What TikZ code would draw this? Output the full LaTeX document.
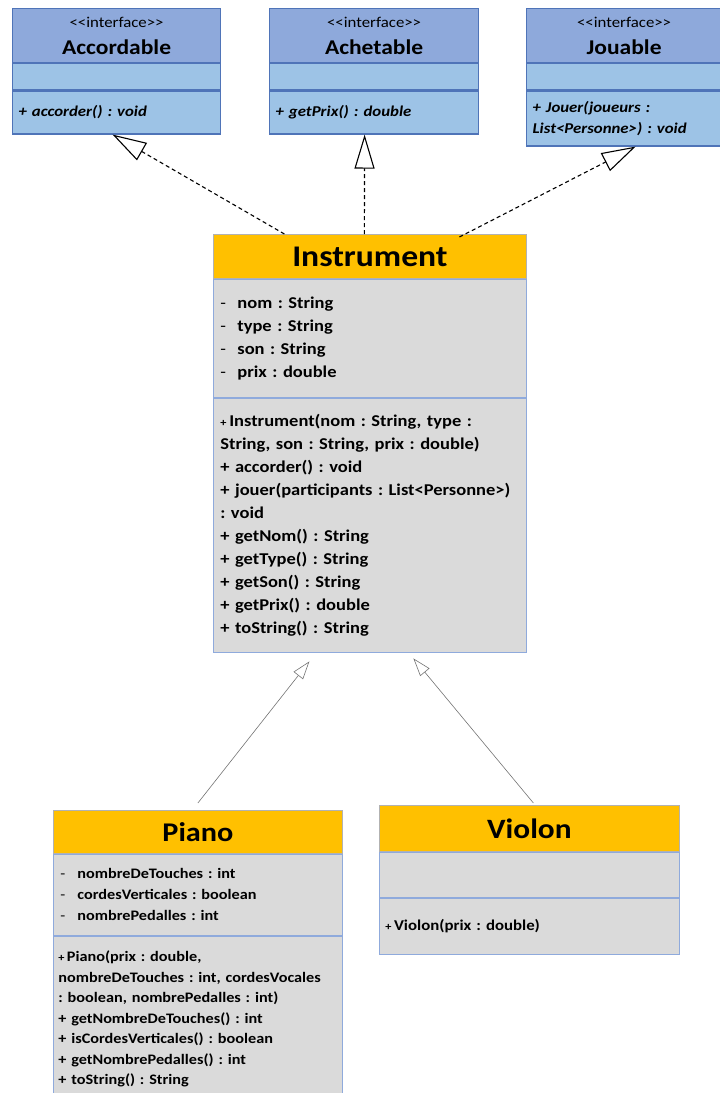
\documentclass[tikz,border=0pt]{standalone}
\usepackage{fontspec}
\setmainfont{Carlito}[FakeStretch=1.12]
\usetikzlibrary{arrows.meta}
\usetikzlibrary{positioning}

\definecolor{ifdark}{HTML}{8EA9DB}
\definecolor{iflight}{HTML}{9DC3E6}
\definecolor{ifline}{HTML}{4F74B8}
\definecolor{clorange}{HTML}{FFC000}
\definecolor{clgrey}{HTML}{DADADA}
\definecolor{clline}{HTML}{8FAADC}

\frenchspacing
\newcommand{\stereo}{<\kern0pt<interface>\kern0pt>}
\newcommand{\attrline}[1]{\makebox[17pt][l]{\mdseries-}#1}
\newcommand{\cplus}{{\fontsize{11}{11}\selectfont+}\,}

\tikzset{
    ifhead/.style = {rectangle, draw=ifline, fill=ifdark, line width=1.2pt, anchor=north west, inner sep=0pt, align=center, font=\fontsize{21}{27}\selectfont\bfseries},
    ifbody/.style = {rectangle, draw=ifline, fill=iflight, line width=1.2pt, anchor=north west, inner xsep=6pt, inner ysep=0pt, align=left, font=\fontsize{15}{21}\selectfont\bfseries\itshape},
    clhead/.style = {rectangle, draw=gray!60, fill=clorange, line width=0.8pt, anchor=north west, inner sep=0pt, align=center},
    clbody/.style = {rectangle, draw=clline, fill=clgrey, line width=0.8pt, anchor=north west, inner xsep=7pt, inner ysep=0pt, align=left},
    edgei/.style = {-{Triangle[open,length=34pt,width=20pt]}, line width=1.1pt, dash pattern=on 4pt off 3pt, black}, % realisation
    edgeh/.style = {-{Triangle[open,length=18pt,width=12pt]}, line width=0.6pt, black!55} % heritage
}

\begin{document}
\begin{tikzpicture}[x=1pt, y=1pt]
  \useasboundingbox (0,0) rectangle (720,-1093);

  % interfaces
  \node[ifhead, minimum width=208pt, minimum height=54pt] (acchead) at (12,-8) {{\mdseries\fontsize{15}{15}\selectfont\stereo}\\Accordable};
  \node[ifbody, minimum width=208pt, minimum height=26pt, text width=196pt] (accattr) at (acchead.south west) {};
  \node[ifbody, minimum width=208pt, minimum height=43pt, text width=196pt] (accmeth) at (accattr.south west) {+ accorder() : void};

  \node[ifhead, minimum width=209pt, minimum height=54pt] (achhead) at (269,-8) {{\mdseries\fontsize{15}{15}\selectfont\stereo}\\Achetable};
  \node[ifbody, minimum width=209pt, minimum height=26pt, text width=197pt] (achattr) at (achhead.south west) {};
  \node[ifbody, minimum width=209pt, minimum height=43pt, text width=197pt] (achmeth) at (achattr.south west) {+ getPrix() : double};

  \node[ifhead, minimum width=195pt, minimum height=54pt] (jouhead) at (526,-8) {{\mdseries\fontsize{15}{15}\selectfont\stereo}\\Jouable};
  \node[ifbody, minimum width=195pt, minimum height=26pt, text width=183pt] (jouattr) at (jouhead.south west) {};
  \node[ifbody, minimum width=195pt, minimum height=55pt, text width=183pt] (joumeth) at (jouattr.south west) {+ Jouer(joueurs :\\List<Personne>) : void};

  % Instrument
  \node[clhead, minimum width=313pt, minimum height=44pt, font=\fontsize{30}{30}\selectfont\bfseries] (instrhead) at (213,-234) {Instrument};
  \node[clbody, minimum width=313pt, minimum height=118pt, text width=299pt, font=\fontsize{16.5}{23}\selectfont\bfseries] (instrattr) at (instrhead.south west) {%
    \attrline{nom : String}\\
    \attrline{type : String}\\
    \attrline{son : String}\\
    \attrline{prix : double}};
  \node[clbody, minimum width=313pt, minimum height=254pt, text width=299pt, font=\fontsize{16.5}{23}\selectfont\bfseries] (instrmeth) at (instrattr.south west) {%
    \cplus Instrument(nom : String, type :\\
    String, son : String, prix : double)\\
    + accorder() : void\\
    + jouer(participants : List<Personne>)\\
    : void\\
    + getNom() : String\\
    + getType() : String\\
    + getSon() : String\\
    + getPrix() : double\\
    + toString() : String};

  % Piano
  \node[clhead, minimum width=289pt, minimum height=43pt, font=\fontsize{27}{27}\selectfont\bfseries] (pianohead) at (53,-810) {Piano};
  \node[clbody, minimum width=289pt, minimum height=81pt, text width=275pt, font=\fontsize{14.5}{21}\selectfont\bfseries] (pianoattr) at (pianohead.south west) {%
    \attrline{nombreDeTouches : int}\\
    \attrline{cordesVerticales : boolean}\\
    \attrline{nombrePedalles : int}};
  \node[clbody, minimum width=289pt, minimum height=166pt, text width=279pt, inner xsep=5pt, font=\fontsize{14.5}{20.5}\selectfont\bfseries] (pianometh) at (pianoattr.south west) {%
    \cplus Piano(prix : double,\\
    nombreDeTouches : int, cordesVocales\\
    : boolean, nombrePedalles : int)\\
    + getNombreDeTouches() : int\\
    + isCordesVerticales() : boolean\\
    + getNombrePedalles() : int\\
    + toString() : String};

  % Violon
  \node[clhead, minimum width=300pt, minimum height=46pt, font=\fontsize{28}{28}\selectfont\bfseries] (violonhead) at (379,-805) {Violon};
  \node[clbody, minimum width=300pt, minimum height=45pt, text width=286pt] (violonattr) at (violonhead.south west) {};
  \node[clbody, minimum width=300pt, minimum height=56pt, text width=288pt, inner xsep=6pt, font=\fontsize{15}{20}\selectfont\bfseries] (violonmeth) at (violonattr.south west) {\cplus Violon(prix : double)};

  % liens
  \draw[edgei] ([xshift=-85.5pt]instrhead.north) -- ([xshift=-4pt]accmeth.south);
  \draw[edgei] ([xshift=-5.5pt]instrhead.north) -- ([xshift=-9.5pt]achmeth.south);
  \draw[edgei] ([xshift=89.5pt, yshift=-3pt]instrhead.north) -- ([xshift=11.5pt]joumeth.south);
  \draw[edgeh] ([yshift=7pt]pianohead.north) -- ([xshift=-60.5pt, yshift=-9pt]instrmeth.south);
  \draw[edgeh] ([xshift=4pt, yshift=2pt]violonhead.north) -- ([xshift=43.5pt, yshift=-6pt]instrmeth.south);
\end{tikzpicture}
\end{document}
